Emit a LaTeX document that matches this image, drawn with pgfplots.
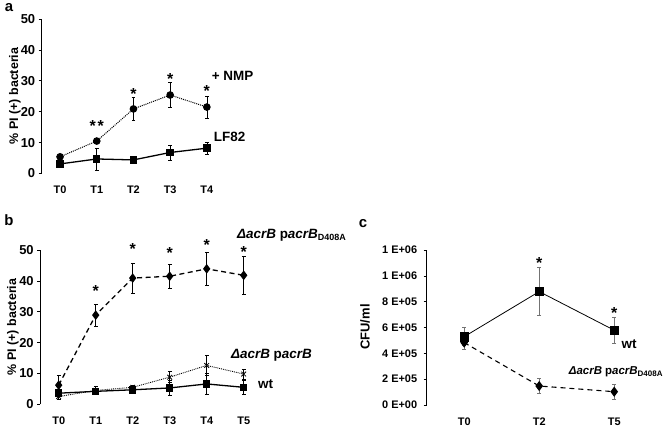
\documentclass[border=0pt]{standalone}
\usepackage{pgfplots}
\pgfplotsset{compat=1.18}
\usepackage{fontspec}
\setmainfont{Liberation Sans}
\newcommand{\sub}[1]{\raisebox{-0.35ex}{\fontsize{9}{9}\selectfont #1}}
\newcommand{\subs}[1]{\raisebox{-0.35ex}{\fontsize{8}{8}\selectfont #1}}
\begin{document}
\begin{tikzpicture}
\useasboundingbox (0bp,0bp) rectangle (668bp,426bp);
\pgfplotsset{
  panel/.style={
    scale only axis,
    axis y line*=left, axis x line*=bottom,
    x axis line style={draw=none},
    y axis line style={-, line width=0.6pt},
    tick align=outside,
    major tick length=3bp,
    xtick style={draw=none},
    ytick style={line width=0.6pt, black},
    clip=false,
    scaled y ticks=false,
    /pgf/number format/assume math mode=true,
    xticklabel style={font=\fontsize{11}{13}\selectfont\bfseries, yshift=-6bp},
    yticklabel style={font=\fontsize{13}{15}\selectfont\bfseries},
    error bars/error bar style={line width=0.5pt, solid},
    error bars/error mark options={rotate=90, mark size=1.8bp, line width=0.5pt, solid},
  },
}
\tikzset{
  star/.style={font=\fontsize{16}{16}\selectfont\bfseries, yshift=-3.5bp, inner sep=0pt},
  lab/.style={font=\fontsize{13.5}{15}\selectfont\bfseries, inner sep=0pt},
}
% ---------------- panel a
\node[font=\fontsize{15}{15}\selectfont\bfseries] at (9bp,418.5bp) {a};
\node[rotate=90, font=\fontsize{12.5}{14}\selectfont\bfseries] at (15bp,330bp) {\% PI (+) bacteria};
\begin{axis}[panel,
  at={(41.7bp,252.5bp)}, anchor=south west,
  width=183.5bp, height=154.5bp,
  xmin=-0.5, xmax=4.5, ymin=0, ymax=50,
  xtick={0,1,2,3,4}, xticklabels={T0,T1,T2,T3,T4},
  ytick={0,10,20,30,40,50}]
\addplot[black, line width=1pt, densely dotted, mark=*, mark size=3.3bp, mark options={solid},
  error bars/.cd, y dir=both, y explicit] coordinates {
  (0,5.4) +- (0,0.3)
  (1,10.5) +- (0,0.6)
  (2,20.9) +- (0,3.7)
  (3,25.4) +- (0,4.1)
  (4,21.5) +- (0,3.6)
};
\addplot[black, line width=1.3pt, solid, mark=square*, mark size=3.1bp, mark options={solid},
  error bars/.cd, y dir=both, y explicit] coordinates {
  (0,3.1) +- (0,0.5)
  (1,4.7) +- (0,3.5)
  (2,4.4) +- (0,0.6)
  (3,6.8) +- (0,2.4)
  (4,8.2) +- (0,1.9)
};
\node[star] at (axis cs:1,16.5) {*\kern2bp*};
\node[star] at (axis cs:2,27.0) {*};
\node[star] at (axis cs:3,31.6) {*};
\node[star] at (axis cs:4,27.8) {*};
\node[lab] at (axis cs:4.7,31.5) {+ NMP};
\node[lab] at (axis cs:4.62,11.8) {LF82};
\end{axis}
% ---------------- panel b
\node[font=\fontsize{15}{15}\selectfont\bfseries] at (9bp,206bp) {b};
\node[rotate=90, font=\fontsize{12.5}{14}\selectfont\bfseries] at (13bp,99bp) {\% PI (+) bacteria};
\begin{axis}[panel,
  at={(40.2bp,21.7bp)}, anchor=south west,
  width=222bp, height=154.3bp,
  xmin=-0.5, xmax=5.5, ymin=0, ymax=50,
  xtick={0,1,2,3,4,5}, xticklabels={T0,T1,T2,T3,T4,T5},
  ytick={0,10,20,30,40,50}]
\addplot[black, line width=1.3pt, solid, mark=square*, mark size=3.1bp, mark options={solid},
  error bars/.cd, y dir=both, y explicit] coordinates {
  (0,3.6) +- (0,0.6)
  (1,4.2) +- (0,1.0)
  (2,4.7) +- (0,0.5)
  (3,5.3) +- (0,2.5)
  (4,6.6) +- (0,3.4)
  (5,5.5) +- (0,2.2)
};
\addplot[black, line width=0.9pt, densely dotted, mark=x, mark size=3.3bp, mark options={solid, line width=0.8pt},
  error bars/.cd, y dir=both, y explicit] coordinates {
  (0,2.5) +- (0,0.8)
  (1,4.5) +- (0,1.3)
  (2,5.5) +- (0,0.8)
  (3,8.8) +- (0,1.8)
  (4,12.6) +- (0,3.2)
  (5,9.8) +- (0,1.6)
};
\addplot[black, line width=1.3pt, dash pattern=on 5bp off 3.5bp, mark=diamond*, mark size=3.8bp, mark options={solid},
  error bars/.cd, y dir=both, y explicit] coordinates {
  (0,6.2) +- (0,3.3)
  (1,28.9) +- (0,3.6)
  (2,40.9) +- (0,4.8)
  (3,41.5) +- (0,3.8)
  (4,43.9) +- (0,5.3)
  (5,41.8) +- (0,6.3)
};
\node[star] at (axis cs:1,37.8) {*};
\node[star] at (axis cs:2,51.3) {*};
\node[star] at (axis cs:3,50.3) {*};
\node[star] at (axis cs:4,52.9) {*};
\node[star] at (axis cs:5,50.6) {*};
\node[lab] at (axis cs:6.29,54.9) {\textit{ΔacrB} p\textit{acrB}\sub{D408A}};
\node[lab] at (axis cs:5.75,16.0) {\textit{ΔacrB} p\textit{acrB}};
\node[lab] at (axis cs:5.59,6.6) {wt};
\end{axis}
% ---------------- panel c
\node[font=\fontsize{15}{15}\selectfont\bfseries] at (363bp,202bp) {c};
\node[rotate=90, font=\fontsize{13}{15}\selectfont\bfseries] at (365bp,99bp) {CFU/ml};
\begin{axis}[panel,
  at={(426.7bp,21bp)}, anchor=south west,
  width=225bp, height=155bp,
  xmin=-0.5, xmax=2.5, ymin=0, ymax=1200000,
  xtick={0,1,2}, xticklabels={T0,T2,T5},
  ytick={0,200000,400000,600000,800000,1000000,1200000},
  yticklabels={0 E+00,2 E+05,4 E+05,6 E+05,8 E+05,1 E+06,1 E+06},
  yticklabel style={font=\fontsize{11}{13}\selectfont\bfseries, xshift=-3bp},
  error bars/error bar style={line width=0.5pt, black!55, solid},
  error bars/error mark options={rotate=90, mark size=1.8bp, line width=0.5pt, black!55, solid}]
\addplot[black, line width=0.8pt, solid, mark=square*, mark size=4.3bp, mark options={solid},
  error bars/.cd, y dir=both, y explicit] coordinates {
  (0,529000) +- (0,70000)
  (1,878000) +- (0,185000)
  (2,579000) +- (0,98000)
};
\addplot[black, line width=1.1pt, dash pattern=on 5bp off 4bp, mark=diamond*, mark size=4.2bp, mark options={solid},
  error bars/.cd, y dir=both, y explicit] coordinates {
  (0,483000) +- (0,50000)
  (1,147000) +- (0,58000)
  (2,103000) +- (0,55000)
};
\node[star] at (axis cs:1,1130000) {*};
\node[star] at (axis cs:2,736000) {*};
\node[lab] at (axis cs:2.2,472000) {wt};
\node[lab, font=\fontsize{11.5}{13}\selectfont\bfseries] at (axis cs:2.02,255000) {\textit{ΔacrB} p\textit{acrB}\subs{D408A}};
\end{axis}
\end{tikzpicture}
\end{document}
